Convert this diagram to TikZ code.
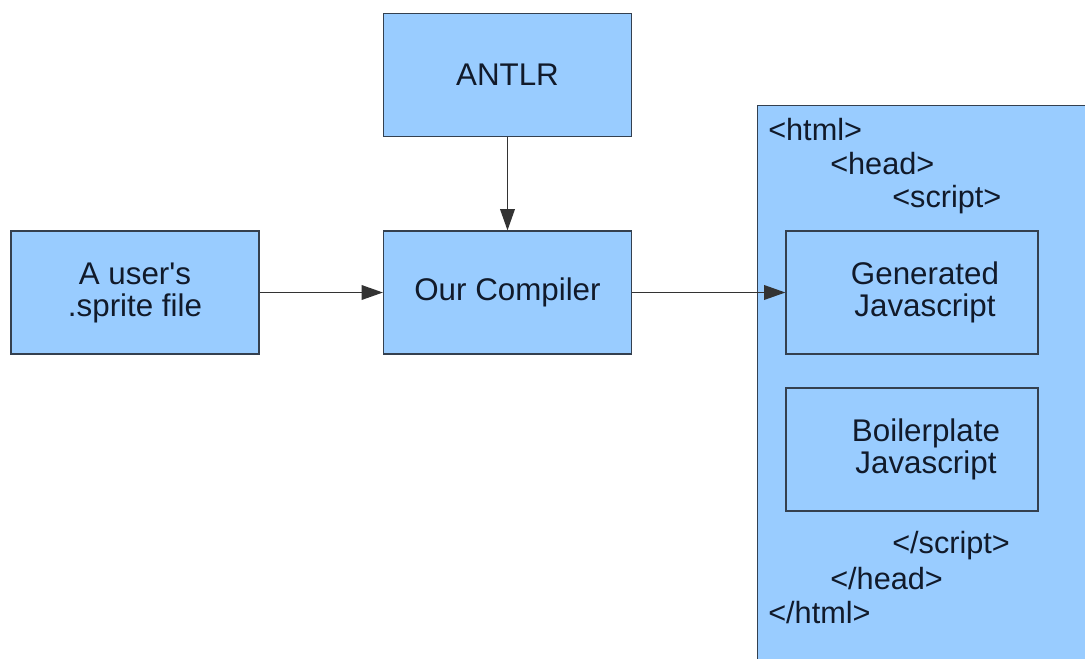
\documentclass[tikz,border=0pt]{standalone}
\usepackage{fontspec}
\setmainfont{Liberation Sans}[Ligatures=TeXOff]
\usetikzlibrary{arrows.meta}
\definecolor{boxblue}{HTML}{99CCFF}
\definecolor{boxline}{HTML}{34404F}
\definecolor{txt}{HTML}{111A2A}
\begin{document}
\begin{tikzpicture}[x=0.75pt,y=-0.75pt,
  box/.style={draw=boxline,fill=boxblue,line width=0.9pt,minimum width=248*0.75pt,minimum height=123*0.75pt,inner sep=0pt,align=center,font=\fontsize{23.5}{24}\selectfont,text=txt},
  label/.style={inner sep=0pt,align=center,font=\fontsize{23.5}{24}\selectfont,text=txt},
  tag/.style={anchor=base west,inner sep=0pt,font=\fontsize{23}{24}\selectfont,text=txt},
  conn/.style={draw=black!80,line width=1.1pt,-{Triangle[length=16pt,width=11pt]}}]
\useasboundingbox (0,0) rectangle (1085,658);
\fill[white] (0,0) rectangle (1085,658);
\begin{scope}
\clip (0,0) rectangle (1085,658);
\node[box,minimum width=340*0.75pt,minimum height=570*0.75pt,anchor=north west] (html) at (757,105) {};
\end{scope}
\node[box] (antlr) at (507.5,75) {ANTLR};
\node[box] (comp) at (507.5,292.5) {Our Compiler};
\node[box] (user) at (135,292.5) {A user's\\.sprite file};
\node[box,minimum width=252*0.75pt] (gen) at (912,292.5) {};
\node[box,minimum width=252*0.75pt] (boil) at (912,449.5) {};
\node[label] (gentext) at (925,292.5) {Generated\\Javascript};
\node[label] (boiltext) at (926,449.5) {Boilerplate\\Javascript};
\node[tag] (t1) at (768,140) {<html>};
\node[tag] (t2) at (830,174) {<head>};
\node[tag] (t3) at (892,207) {<script>};
\node[tag] (t4) at (892,553) {</script>};
\node[tag] (t5) at (830,589) {</head>};
\node[tag] (t6) at (768,623) {</html>};
\draw[conn] (antlr.south) -- (comp.north);
\draw[conn] (user.east) -- (comp.west);
\draw[conn] (comp.east) -- (gen.west);
\end{tikzpicture}
\end{document}
